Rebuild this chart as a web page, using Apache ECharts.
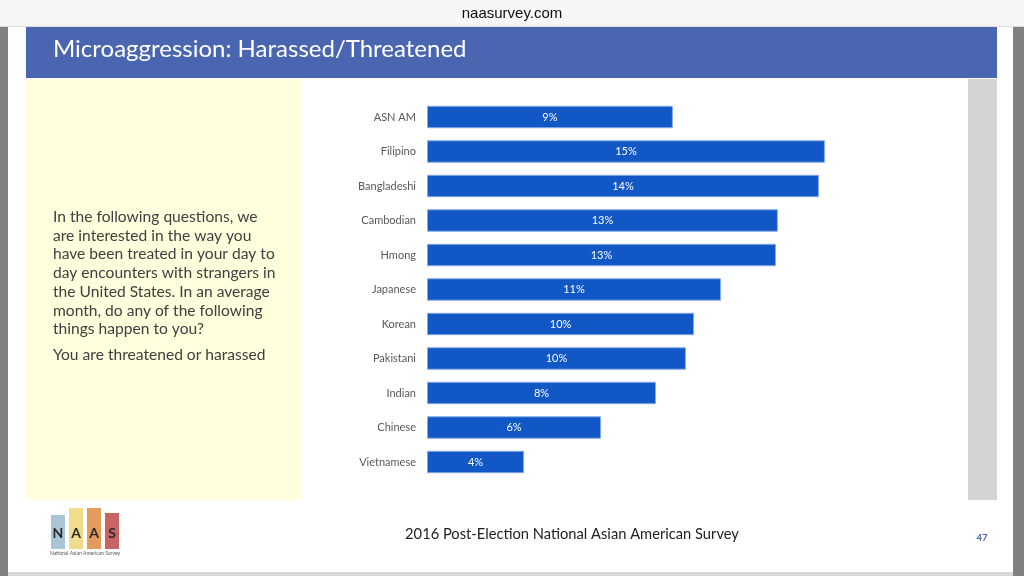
<!DOCTYPE html>
<html><head><meta charset="utf-8">
<script src="https://cdn.jsdelivr.net/npm/echarts@6/dist/echarts.min.js"></script>
<style>html,body{margin:0;padding:0;background:#fff}#c{width:1024px;height:576px}</style>
</head><body><div id="c"></div>
<script>
const title = 'Microaggression: Harassed/Threatened';
const categories = ['ASN AM','Filipino','Bangladeshi','Cambodian','Hmong','Japanese','Korean','Pakistani','Indian','Chinese','Vietnamese'];
const values = [9.04, 14.63, 14.41, 12.9, 12.83, 10.81, 9.82, 9.52, 8.42, 6.4, 3.57];
const questionLines = [
  'In the following questions, we',
  'are interested in the way you',
  'have been treated in your day to',
  'day encounters with strangers in',
  'the United States. In an average',
  'month, do any of the following',
  'things happen to you?'
];
const subQuestion = 'You are threatened or harassed';
const footer = '2016 Post-Election National Asian American Survey';
const pageNo = '47';
const site = 'naasurvey.com';

const chart = echarts.init(document.getElementById('c'), null, {renderer:'canvas'});
const F = 'Lato, "Open Sans", sans-serif';
const g = [];
// page frame
g.push({type:'rect', shape:{x:0,y:0,width:1024,height:27}, style:{fill:'#f6f6f6'}, silent:true});
g.push({type:'rect', shape:{x:0,y:26,width:1024,height:1}, style:{fill:'#dcdcdc'}, silent:true});
g.push({type:'text', x:512, y:14, style:{text:site, fill:'#111', font:'15px "Liberation Sans", Arial, sans-serif', textAlign:'center', textVerticalAlign:'middle'}, silent:true});
g.push({type:'rect', shape:{x:0,y:27,width:8,height:549}, style:{fill:'#808080'}, silent:true});
g.push({type:'rect', shape:{x:1013,y:27,width:11,height:549}, style:{fill:'#808080'}, silent:true});
g.push({type:'rect', shape:{x:8,y:572,width:1005,height:4}, style:{fill:'#d8d8d8'}, silent:true});
// header
g.push({type:'rect', shape:{x:26,y:27,width:971,height:51}, style:{fill:'#4a66b0'}, silent:true});
g.push({type:'text', x:53, y:49, style:{text:title, fill:'#fff', font:'24px '+F, textVerticalAlign:'middle'}, silent:true});
// yellow panel and gray strip
g.push({type:'rect', shape:{x:26,y:79,width:275,height:421}, style:{fill:'#ffffdd'}, silent:true});
g.push({type:'rect', shape:{x:968,y:79,width:29,height:421}, style:{fill:'#d4d4d4'}, silent:true});
questionLines.forEach((t,i)=>{
  g.push({type:'text', x:53, y:217+i*18.7, style:{text:t, fill:'#404040', font:'15.6px '+F, textVerticalAlign:'middle'}, silent:true});
});
g.push({type:'text', x:53, y:355, style:{text:subQuestion, fill:'#404040', font:'15.6px '+F, textVerticalAlign:'middle'}, silent:true});
// footer
g.push({type:'text', x:572, y:534, style:{text:footer, fill:'#222', font:'14.7px '+F, textAlign:'center', textVerticalAlign:'middle'}, silent:true});
g.push({type:'text', x:982, y:538, style:{text:pageNo, fill:'#4a66b0', font:'bold 9.5px '+F, textAlign:'center', textVerticalAlign:'middle'}, silent:true});
// logo
const logo = [['N','#a9c6d6',51,515],['A','#f0dc8a',69,508],['A','#e39c5e',87,508],['S','#c96464',105,513]];
logo.forEach(l=>{
  g.push({type:'rect', shape:{x:l[2],y:l[3],width:14,height:549-l[3]}, style:{fill:l[1]}, silent:true});
  g.push({type:'text', x:l[2]+7, y:533, style:{text:l[0], fill:'#2a2a2a', font:'bold 14px '+F, textAlign:'center', textVerticalAlign:'middle'}, silent:true});
});
g.push({type:'text', x:85, y:553, style:{text:'National Asian American Survey', fill:'#555', font:'5px '+F, textAlign:'center', textVerticalAlign:'middle'}, silent:true});

chart.setOption({
  animation:false,
  backgroundColor:'#ffffff',
  graphic:{elements:g},
  grid:{left:427, top:99.75, width:408, height:379.5, containLabel:false},
  xAxis:{type:'value', min:0, max:15, show:false},
  yAxis:{type:'category', data:categories, inverse:true,
    axisLine:{show:false}, axisTick:{show:false}, splitLine:{show:false},
    axisLabel:{color:'#595959', fontFamily:F, fontSize:11, margin:11}},
  series:[{type:'bar', data:values, barCategoryGap:'35%',
    itemStyle:{color:'#1157c6', borderColor:'#86aae6', borderWidth:1},
    label:{show:true, position:'inside', color:'#fff', fontFamily:F, fontSize:11,
      formatter:p=>Math.round(p.value)+'%'}}]
});
</script></body></html>
